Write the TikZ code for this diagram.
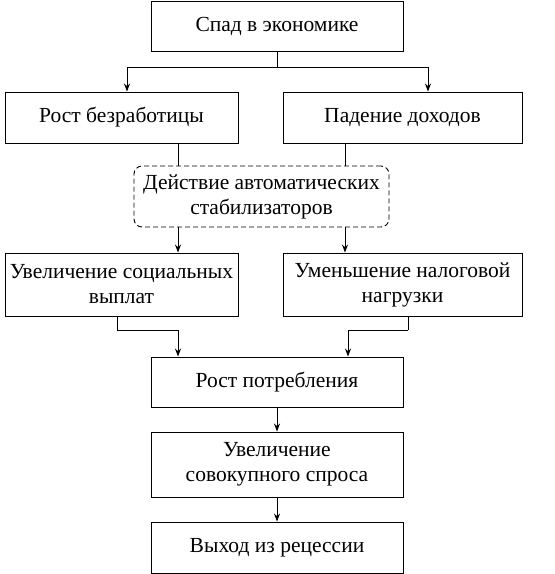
\documentclass[tikz,border=0pt]{standalone}
\usepackage{fontspec}
\setmainfont{Liberation Serif}
\usetikzlibrary{arrows.meta,calc}
\begin{document}
\begin{tikzpicture}[x=1pt,y=-1pt,
  box/.style={draw,line width=0.9pt,minimum width=#1,inner sep=0pt,align=center,font=\fontsize{21.5}{25}\selectfont},
  conn/.style={line width=0.9pt},
  arr/.style={line width=0.9pt,-{Stealth[length=8pt,width=6pt]}},
  dbox/.style={draw,dashed,dash pattern=on 5pt off 3pt,line width=0.9pt,rounded corners=8pt,minimum width=255pt,minimum height=61pt,inner sep=0pt,align=center,font=\fontsize{21.5}{25}\selectfont}]
\useasboundingbox (0,0) rectangle (555,574);
\node[box=252pt,minimum height=50pt] (top) at (277,26) {Спад в экономике};
\node[box=233pt,minimum height=51pt] (L1) at (121.5,117.5) {Рост безработицы};
\node[box=239pt,minimum height=51pt] (R1) at (402.5,117.5) {Падение доходов};
\node[dbox] (dash) at (261.5,196.5) {Действие автоматических\\стабилизаторов};
\node[box=233pt,minimum height=63pt] (L2) at (121.5,284.5) {Увеличение социальных\\выплат};
\node[box=239pt,minimum height=63pt] (R2) at (402.5,284.5) {Уменьшение налоговой\\нагрузки};
\node[box=252pt,minimum height=50pt] (C) at (277,382) {Рост потребления};
\node[box=252pt,minimum height=65pt] (D) at (277,464.5) {Увеличение\\совокупного спроса};
\node[box=252pt,minimum height=51pt] (E) at (277,547.5) {Выход из рецессии};
% top split
\coordinate (tj) at ($(top.south)+(0,16)$);
\draw[conn] (top.south) -- (tj);
\draw[arr] (tj) -| ([xshift=5.5pt]L1.north);
\draw[arr] (tj) -| ([xshift=25.5pt]R1.north);
% to dashed box
\draw[conn] ([xshift=56.5pt]L1.south) -- ([xshift=56.5pt]L1.south |- dash.north);
\draw[conn] ([xshift=-57.5pt]R1.south) -- ([xshift=-57.5pt]R1.south |- dash.north);
% from dashed box
\draw[arr] ([xshift=56.5pt]L2.north |- dash.south) -- ([xshift=56.5pt]L2.north);
\draw[arr] ([xshift=-57.5pt]R2.north |- dash.south) -- ([xshift=-57.5pt]R2.north);
% to C
\coordinate (lj) at ($([xshift=-4.5pt]L2.south)+(0,14)$);
\coordinate (rj) at ($([xshift=5.5pt]R2.south)+(0,14)$);
\draw[conn] ([xshift=-4.5pt]L2.south) -- (lj);
\draw[arr] (lj) -| ([xshift=-99pt]C.north);
\draw[conn] ([xshift=5.5pt]R2.south) -- (rj);
\draw[arr] (rj) -| ([xshift=71pt]C.north);
\draw[arr] (C) -- (D);
\draw[arr] (D) -- (E);
\end{tikzpicture}
\end{document}
